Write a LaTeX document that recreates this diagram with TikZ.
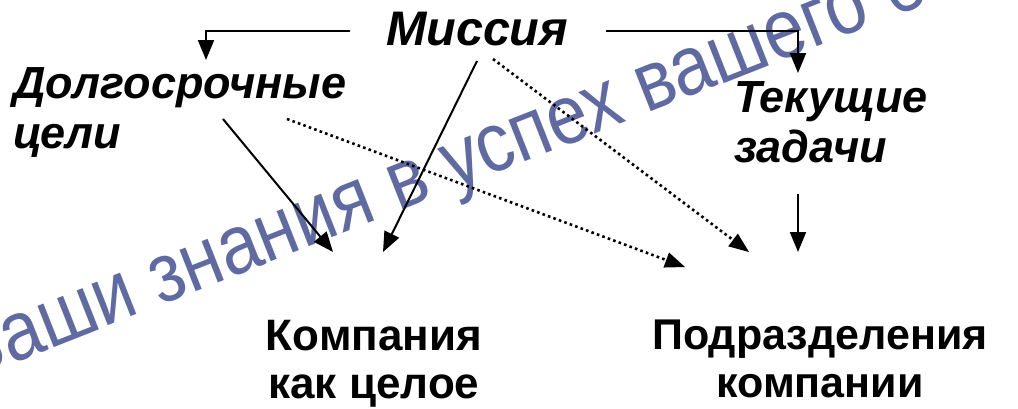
\documentclass[tikz,border=0pt]{standalone}
\usepackage{fontspec}
\setmainfont{Liberation Sans}
\usetikzlibrary{arrows.meta}
\definecolor{wm}{RGB}{96,106,162}
\tikzset{
  lbl/.style={inner sep=0pt, outer sep=0pt},
  itl/.style={lbl, font=\fontsize{45}{50}\selectfont\bfseries\itshape},
  bld/.style={lbl, font=\fontsize{44}{48}\selectfont\bfseries, align=center},
  link/.style={line width=2pt, -{Triangle[length=20pt,width=16pt]}},
  dotlink/.style={line width=2.6pt, dash pattern=on 2.6pt off 3.2pt, -{Triangle[length=20pt,width=16pt,line width=0pt]}}
}
\begin{document}
\begin{tikzpicture}[x=1pt,y=-1pt]
\useasboundingbox (0,0) rectangle (1018,408);
\begin{scope}
\clip (0,0) rectangle (1018,408);
\node[lbl, anchor=base west, rotate=21.5, xscale=0.87, text=wm, font=\fontsize{84}{84}\selectfont] (wmk) at (-34,382) {Ваши знания в успех вашего бизнеса};
\end{scope}
\node[itl, anchor=base west, font=\fontsize{48.5}{50}\selectfont\bfseries\itshape] (mis) at (386,45) {Миссия};
\node[itl, anchor=north west, align=left] (dolg) at (13,68) {Долгосрочные\\цели};
\node[itl, anchor=north west, align=left] (tek) at (734,82) {Текущие\\задачи};
\node[bld, anchor=north] (komp) at (374,320) {Компания\\как целое};
\node[bld, anchor=north, font=\fontsize{43}{48}\selectfont\bfseries] (podr) at (820,320) {Подразделения\\компании};
\draw[link] ([shift={(-36,-14)}]mis.base west) -| ([shift={(193,-8)}]dolg.north west);
\draw[link] ([shift={(220,-14)}]mis.base west) -| ([shift={(64,-9)}]tek.north west);
\draw[link] ([shift={(91,16)}]mis.base west) -- ([shift={(9,-68)}]komp.north);
\draw[link] ([shift={(210,51)}]dolg.north west) -- ([shift={(-41,-68)}]komp.north);
\draw[dotlink] ([shift={(107,14)}]mis.base west) -- ([shift={(-71,-68)}]podr.north);
\draw[dotlink] ([shift={(274,51)}]dolg.north west) -- ([shift={(-135,-53)}]podr.north);
\draw[link] ([shift={(64,112)}]tek.north west) -- ([shift={(-22,-68)}]podr.north);
\end{tikzpicture}
\end{document}
